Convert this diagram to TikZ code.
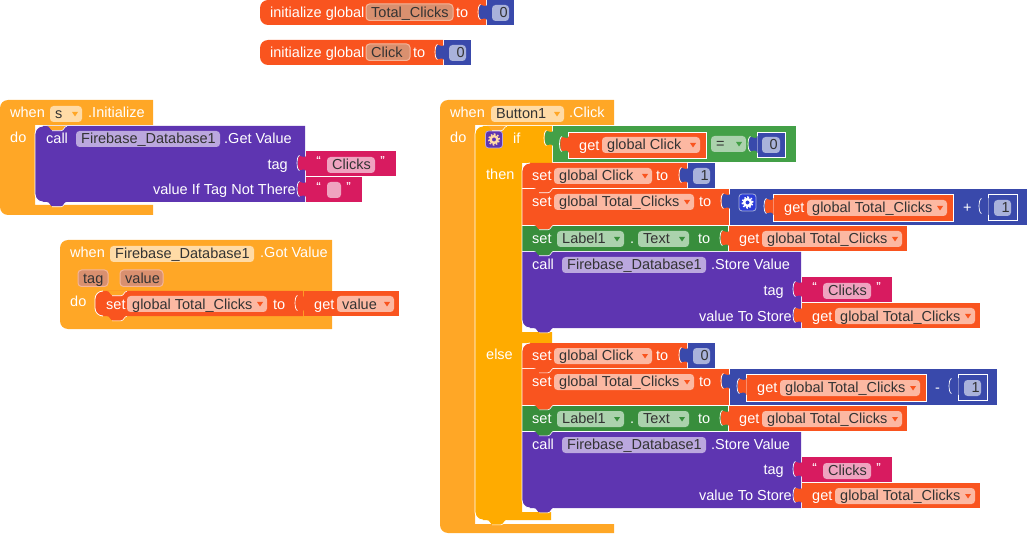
\documentclass[tikz,border=0pt]{standalone}
\usepackage{fontspec}
\setmainfont{Liberation Sans}
\definecolor{cOr}{HTML}{F9541F}
\definecolor{cBl}{HTML}{3949AB}
\definecolor{cPu}{HTML}{5E35B1}
\definecolor{cPi}{HTML}{D81B60}
\definecolor{cGr}{HTML}{43A047}
\definecolor{cDg}{HTML}{388E3C}
\definecolor{cAm}{HTML}{FFAB00}
\definecolor{cEv}{HTML}{FFA726}
\definecolor{fOr}{HTML}{FCB8A2}
\definecolor{fBl}{HTML}{A9B2DB}
\definecolor{fPu}{HTML}{BBA8DE}
\definecolor{fPi}{HTML}{EFA3C0}
\definecolor{fGr}{HTML}{ABD2AD}
\definecolor{fEv}{HTML}{FFDBA6}
\definecolor{fIn}{HTML}{D9906F}
\definecolor{bIn}{HTML}{F4B59A}
\definecolor{cTx}{HTML}{333333}
\definecolor{cGb}{HTML}{2B3BD9}
\tikzset{
  lab/.style={inner sep=0pt,text=white,font=\fontsize{14.5}{16}\selectfont},
  ftx/.style={inner sep=0pt,text=cTx,font=\fontsize{14.5}{16}\selectfont},
  qte/.style={inner sep=0pt,text=white,font=\fontsize{10}{10}\selectfont\bfseries},
  edge/.style={draw=white,line width=0.8pt},
}
\def\myDy{0}
% text
\newcommand\myT[3]{\node[lab,anchor=base west] at (#1,#2+\myDy) {#3};}
\newcommand\myR[3]{\node[lab,anchor=base east] at (#1,#2+\myDy) {#3};}
% rectangle
\newcommand\myB[5]{\fill[#1] (#2,#3) rectangle (#4,#5);}
% rectangle, outlined
\newcommand\myO[5]{\filldraw[fill=#1,edge] (#2,#3) rectangle (#4,#5);}
% rectangle rounded on the left
\newcommand\myL[5]{\fill[#1] (#2+8,#3) -- (#4,#3) -- (#4,#5) -- (#2+8,#5) .. controls (#2+3.6,#5) and (#2,#5-3.6) .. (#2,#5-8) -- (#2,#3+8) .. controls (#2,#3+3.6) and (#2+3.6,#3) .. (#2+8,#3) -- cycle;}
% white left edge with two rounded corners
\newcommand\myE[3]{\draw[edge] (#1+8,#2) .. controls (#1+3.6,#2) and (#1,#2+3.6) .. (#1,#2+8) -- (#1,#3-8) .. controls (#1,#3-3.6) and (#1+3.6,#3) .. (#1+8,#3);}
% field: colour x1 x2 top text
\newcommand\myF[5]{\fill[#1,rounded corners=3.5pt] (#2,#4) rectangle (#3,#4+16); \node[ftx,anchor=base west] at (#2+5,#4+13+\myDy) {#5};}
% dropdown field: colour arrow x1 x2 top text
\newcommand\myD[6]{\myF{#1}{#3}{#4}{#5}{#6}\fill[#2] (#4-10,#5+6) -- (#4-4,#5+6) -- (#4-7,#5+10.5) -- cycle;}
% name field with border
\newcommand\myN[4]{\filldraw[fill=fIn,draw=bIn,line width=1pt,rounded corners=3.5pt] (#1,#3) rectangle (#2,#3+16.5); \node[ftx,anchor=base west] at (#1+5,#3+13.5) {#4};}
% puzzle tab: colour x top
\newcommand\myP[3]{\fill[#1] (#2+0.5,#3+4) .. controls (#2-1,#3+8) and (#2-3,#3+5) .. (#2-6,#3+5) .. controls (#2-9,#3+5) and (#2-9,#3+19) .. (#2-6,#3+19) .. controls (#2-3,#3+19) and (#2-1,#3+17) .. (#2+0.5,#3+21) -- cycle;
 \draw[edge,line width=0.7pt] (#2-6.5,#3+4.5) .. controls (#2-9.8,#3+5) and (#2-9.8,#3+19) .. (#2-6.5,#3+19.5);}
% statement nub: colour x y (x is block left)
\newcommand\myK[3]{\path[fill=#1] (#2+12,#3) .. controls (#2+15,#3) and (#2+15,#3+4.5) .. (#2+18,#3+4.5) -- (#2+26,#3+4.5) .. controls (#2+29,#3+4.5) and (#2+29,#3) .. (#2+32,#3);
 \draw[edge,line width=0.6pt] (#2+17,#3+4.8) -- (#2+26,#3+4.8) .. controls (#2+29,#3+4.8) and (#2+29,#3+0.3) .. (#2+32,#3+0.3);}
% quotes
\newcommand\myQa[2]{\node[qte,anchor=base west] at (#1,#2) {“};}
\newcommand\myQb[2]{\node[qte,anchor=base west] at (#1,#2) {”};}
% number block
\newcommand\myNum[3]{\myB{cBl}{#1}{#2}{#1+27}{#2+25}\myP{cBl}{#1}{#2}\myF{fBl}{#1+5}{#1+22}{#2+5}{\,#3}}
% gear: bg border gear x y
\newcommand\myG[5]{\filldraw[fill=#1,draw=#2,line width=.8pt,rounded corners=3pt] (#4,#5) rectangle (#4+17,#5+17);
 \draw[#3,line width=2.4pt] (#4+8.5,#5+8.5) circle (3.4pt);
 \draw[#3,line width=1.6pt,dash pattern=on 1.6pt off 1.74pt] (#4+8.5,#5+8.5) circle (5.4pt);}
% get block: tab x, top, x2
\newcommand\myGet[4]{\myP{cOr}{#1}{#2}\myT{#1+10}{#2+18}{get}\myD{fOr}{cOr}{#1+33}{#3}{#2+5}{#4}}
% common part of a then/else branch
\newcommand\myBranch[1]{%
  \fill[cOr] (530,163) -- (687,163) -- (687,188) -- (522,188) -- (522,171) .. controls (522,166.6) and (525.6,163) .. (530,163) -- cycle;
  \myT{532}{181}{set}\myD{fOr}{cOr}{554}{652}{168}{global Click}\myT{656}{181}{to}
  \myNum{688}{163}{#1}
  \myB{cOr}{522}{189}{729}{225}
  \myT{532}{207}{set}\myD{fOr}{cOr}{554}{694}{194}{global Total\_Clicks}\myT{699}{207}{to}
  \myB{cDg}{522}{226}{728}{251}
  \myT{532}{244}{set}\myD{fGr}{cDg}{557}{624}{231}{Label1}\myT{630}{244}{.}\myD{fGr}{cDg}{638}{689}{231}{Text}\myT{698}{244}{to}
  \myB{cOr}{729}{226}{907}{251}\myGet{729}{226}{902}{global Total\_Clicks}
  \fill[cPu] (522,252) -- (801,252) -- (801,328) -- (530,328) .. controls (525.6,328) and (522,324.4) .. (522,320) -- cycle;
  \myT{532}{270}{call}\myF{fPu}{562}{706}{257}{Firebase\_Database1}\myT{711}{270}{.Store Value}
  \myR{784}{295}{tag}\myR{792}{321}{value To Store}
  \myB{cPi}{802}{277}{892}{302}\myP{cPi}{802}{277}\myQa{812}{290}\myF{fPi}{823}{871}{283}{Clicks}\myQb{876}{290}
  \myB{cOr}{802}{303}{980}{328}\myGet{802}{303}{975}{global Total\_Clicks}
  \myK{cOr}{522}{188}\myK{cOr}{522}{225}\myK{cDg}{522}{251}\myK{cPu}{522}{328}
  \myE{522}{163}{328}
}
\begin{document}
\begin{tikzpicture}[x=1pt,y=-1pt]
\useasboundingbox (0,0) rectangle (1027,534);
% initialize blocks
\myL{cOr}{260}{0}{486}{25}
\myT{270}{18}{initialize global}\myN{366}{453}{4}{Total\_Clicks}\myT{456}{18}{to}
\myNum{487}{0}{0}
\myL{cOr}{260}{40}{443}{65}
\myT{270}{58}{initialize global}\myN{366}{410}{44}{Click}\myT{413}{58}{to}
\myNum{444}{40}{0}
% when s .Initialize
\fill[cEv] (8,100) -- (153,100) -- (153,125) -- (35,125) -- (35,205) -- (153,205) -- (153,215) -- (8,215) .. controls (3.6,215) and (0,211.4) .. (0,207) -- (0,108) .. controls (0,103.6) and (3.6,100) .. (8,100) -- cycle;
\myT{10}{118}{when}\myD{fEv}{cEv}{50}{82}{106}{s}\myT{88}{118}{.Initialize}\myT{10}{143}{do}
\myL{cPu}{35}{126}{305}{202}
\myT{46}{144}{call}\myF{fPu}{76}{220}{131}{Firebase\_Database1}\myT{224}{144}{.Get Value}
\myR{288}{170}{tag}\myR{296}{195}{value If Tag Not There}
\myB{cPi}{306}{151}{396}{176}\myP{cPi}{306}{151}\myQa{316}{164}\myF{fPi}{327}{375}{157}{Clicks}\myQb{380}{164}
\myB{cPi}{306}{177}{362}{202}\myP{cPi}{306}{177}\myQa{316}{190}\myF{fPi}{327}{341}{182}{}\myQb{346}{190}
\myK{cEv}{35}{126}\myK{cPu}{35}{202}
\myE{35}{126}{202}
% when Firebase_Database1 .Got Value
\myL{cEv}{60}{240}{332}{329}
\myT{70}{258}{when}\myF{fEv}{110}{254}{246}{Firebase\_Database1}\myT{260}{258}{.Got Value}
\myN{78}{108}{270}{tag}\myN{120}{163}{270}{value}
\myT{70}{307}{do}
\myL{cOr}{95}{291}{303}{316}
\myT{106}{309}{set}\myD{fOr}{cOr}{127}{267}{296}{global Total\_Clicks}\myT{273}{309}{to}
\myB{cOr}{304}{291}{399}{316}\myGet{304}{291}{394}{value}
\myK{cEv}{95}{291}\myK{cOr}{95}{316}
\myE{95}{291}{316}
% when Button1 .Click
\fill[cEv] (448,100) -- (614,100) -- (614,125) -- (475,125) -- (475,524) -- (614,524) -- (614,533) -- (448,533) .. controls (443.6,533) and (440,529.4) .. (440,525) -- (440,108) .. controls (440,103.6) and (443.6,100) .. (448,100) -- cycle;
\myT{450}{118}{when}\myD{fEv}{cEv}{491}{564}{106}{Button1}\myT{569}{118}{.Click}\myT{450}{143}{do}
% if block
\fill[cAm] (483,126) -- (552,126) -- (552,163) -- (522,163) -- (522,332) -- (552,332) -- (552,343) -- (522,343) -- (522,512) -- (551,512) -- (551,520) -- (483,520) .. controls (478.6,520) and (475,516.4) .. (475,512) -- (475,134) .. controls (475,129.6) and (478.6,126) .. (483,126) -- cycle;
\myG{cPu}{fPu}{fEv}{485.5}{131}
\myT{513}{144}{if}\myT{486}{180}{then}\myT{486}{359}{else}
% condition
\myB{cGr}{553}{126}{796}{162}\myP{cGr}{553}{126}
\myO{cOr}{568.5}{132}{706}{158}\myP{cOr}{568.5}{132}\myT{579}{151}{get}\myD{fOr}{cOr}{602}{700}{137}{global Click}
\myD{fGr}{cGr}{711}{746}{136}{=}
\myO{cBl}{757}{132}{785}{157}\myP{cBl}{757}{132}\myF{fBl}{762}{780}{137}{\,0}
% then
\myBranch{1}
\myB{cBl}{730}{189}{1027}{225}\myP{cBl}{730}{189}
\myG{cGb}{fBl}{white}{739}{194}
\myO{cOr}{773}{194}{953}{221}\myP{cOr}{773}{194}\myT{784}{213}{get}\myD{fOr}{cOr}{807}{947}{200}{global Total\_Clicks}
\myT{963}{213}{+}
\myO{cBl}{988}{194}{1017}{220}\myP{cBl}{988}{194}\myF{fBl}{994}{1011}{200}{\,1}
% else
\begin{scope}[shift={(0,180)}]
\def\myDy{-1}
\myBranch{0}
\myB{cBl}{730}{189}{997}{225}\myP{cBl}{730}{189}
\myO{cOr}{746}{194}{926}{221}\myP{cOr}{746}{194}\myT{757}{213}{get}\myD{fOr}{cOr}{780}{920}{200}{global Total\_Clicks}
\myT{935}{213}{-}
\myO{cBl}{958}{194}{987}{220}\myP{cBl}{958}{194}\myF{fBl}{964}{981}{200}{\,1}
\end{scope}
\myK{cEv}{475}{126}\myK{cAm}{475}{520}
\myE{475}{126}{520}
\end{tikzpicture}
\end{document}
